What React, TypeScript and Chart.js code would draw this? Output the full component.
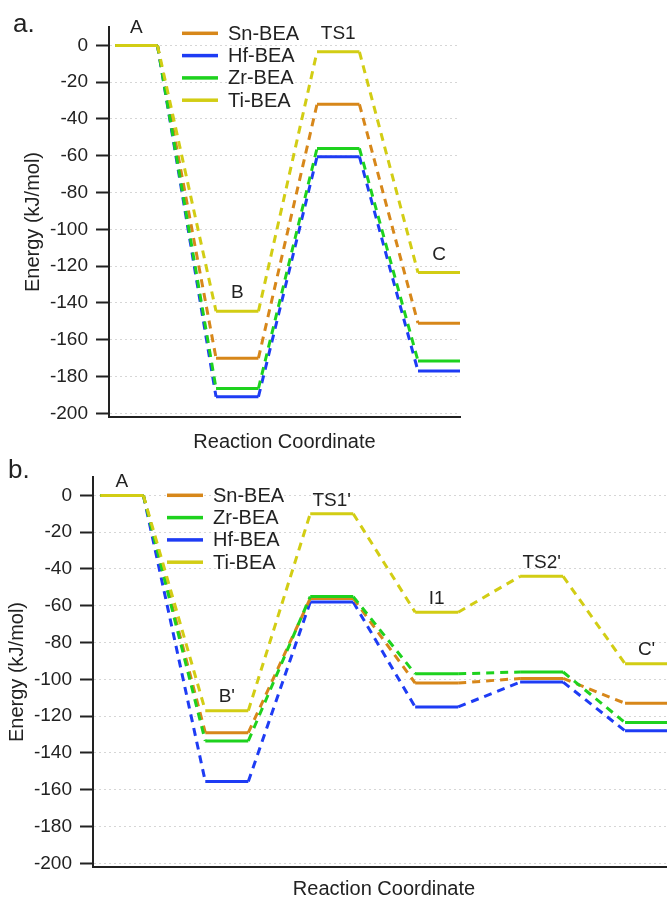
import React, { useEffect, useRef } from 'react';
import { Chart, registerables } from 'chart.js';

Chart.register(...registerables);

const FONT = '"Liberation Sans", Arial, Helvetica, sans-serif';
const TEXT = '#222222';

// ---------- Panel a data ----------
const statesA = ['A', 'B', 'TS1', 'C'];
const snA = [0, -170, -32, -151];
const hfA = [0, -191, -60.5, -177];
const zrA = [0, -186.5, -56, -171.5];
const tiA = [0, -144.5, -3.5, -123.5];

// ---------- Panel b data ----------
const statesB = ['A', "B'", "TS1'", 'I1', "TS2'", "C'"];
const snB = [0, -129, -56, -102, -99.5, -113];
const zrB = [0, -133.5, -55, -97, -96, -123.5];
const hfB = [0, -155.5, -58, -115, -101.5, -128];
const tiB = [0, -117, -10, -63.5, -44, -91.5];

const yTicks = [-200, -180, -160, -140, -120, -100, -80, -60, -40, -20, 0];

const COLOR_SN = '#D7871A';
const COLOR_HF = '#1E3CF4';
const COLOR_ZR = '#1ED21E';
const COLOR_TI = '#D2CD14';

type Series = { label: string; values: number[]; color: string; order: number };

const seriesA: Series[] = [
  { label: 'Sn-BEA', values: snA, color: COLOR_SN, order: 3 },
  { label: 'Hf-BEA', values: hfA, color: COLOR_HF, order: 2 },
  { label: 'Zr-BEA', values: zrA, color: COLOR_ZR, order: 1 },
  { label: 'Ti-BEA', values: tiA, color: COLOR_TI, order: 0 },
];

const seriesB: Series[] = [
  { label: 'Sn-BEA', values: snB, color: COLOR_SN, order: 2 },
  { label: 'Zr-BEA', values: zrB, color: COLOR_ZR, order: 1 },
  { label: 'Hf-BEA', values: hfB, color: COLOR_HF, order: 3 },
  { label: 'Ti-BEA', values: tiB, color: COLOR_TI, order: 0 },
];

type PanelCfg = {
  letter: string;
  states: string[];
  series: Series[];
  levelW: number;
  xMin: number;
  xMax: number;
  axisLeft: number;
  padRight: number;
  padTop: number;
  xAxisHeight: number;
  xTitlePadBottom: number;
  yTitlePadTop: number;
  labelGap: number;
  legendX: number;
  legendY: number;
  letterX: number;
  letterY: number;
};

function makeOverlay(p: PanelCfg) {
  return {
    id: 'overlay' + p.letter,
    afterDraw(chart: any) {
      const ctx = chart.ctx as CanvasRenderingContext2D;
      const xs = chart.scales.x;
      const ys = chart.scales.y;
      ctx.save();
      ctx.setLineDash([]);
      ctx.lineDashOffset = 0;
      ctx.fillStyle = TEXT;
      // state labels
      ctx.font = `19px ${FONT}`;
      ctx.textAlign = 'center';
      ctx.textBaseline = 'middle';
      p.states.forEach((s, i) => {
        const top = Math.max(...p.series.map((se) => se.values[i]));
        ctx.fillText(s, xs.getPixelForValue(i + p.levelW / 2), ys.getPixelForValue(top) - p.labelGap);
      });
      // legend
      p.series.forEach((se, k) => {
        const y = p.legendY + k * 22.3;
        ctx.save();
        ctx.setLineDash([]);
        ctx.fillStyle = se.color;
        ctx.fillRect(p.legendX, y - 1.75, 36, 3.5);
        ctx.restore();
        ctx.font = `20px ${FONT}`;
        ctx.textAlign = 'left';
        ctx.textBaseline = 'middle';
        ctx.fillStyle = TEXT;
        ctx.fillText(se.label, p.legendX + 46, y + 1);
      });
      // panel letter
      ctx.font = `26px ${FONT}`;
      ctx.textAlign = 'left';
      ctx.textBaseline = 'alphabetic';
      ctx.fillText(p.letter, p.letterX, p.letterY);
      ctx.restore();
    },
  };
}

function buildConfig(p: PanelCfg): any {
  const datasets = p.series.map((se) => {
    const pts: { x: number; y: number }[] = [];
    se.values.forEach((v, i) => {
      pts.push({ x: i, y: v });
      pts.push({ x: i + p.levelW, y: v });
    });
    return {
      label: se.label,
      data: pts,
      borderColor: se.color,
      backgroundColor: se.color,
      borderWidth: 3,
      pointRadius: 0,
      fill: false,
      tension: 0,
      order: se.order,
      borderCapStyle: 'butt',
      borderJoinStyle: 'round',
      segment: {
        borderDash: (c: any) => (c.p0DataIndex % 2 === 1 ? [8, 6] : undefined),
      },
    };
  });
  return {
    type: 'line',
    data: { datasets },
    options: {
      responsive: false,
      animation: false,
      devicePixelRatio: 1,
      layout: { padding: { left: 0, right: p.padRight, top: p.padTop, bottom: 0 } },
      plugins: { legend: { display: false }, tooltip: { enabled: false } },
      scales: {
        x: {
          type: 'linear',
          min: p.xMin,
          max: p.xMax,
          afterFit: (s: any) => {
            s.height = p.xAxisHeight;
          },
          ticks: { display: false },
          grid: { display: false, drawTicks: false },
          border: { display: true, color: TEXT, width: 2 },
          title: {
            display: true,
            text: 'Reaction Coordinate',
            color: TEXT,
            font: { family: FONT, size: 20, lineHeight: 1 },
            padding: { top: 0, bottom: p.xTitlePadBottom },
          },
        },
        y: {
          type: 'linear',
          min: -202,
          max: 10,
          afterBuildTicks: (s: any) => {
            s.ticks = yTicks.map((v) => ({ value: v }));
          },
          afterFit: (s: any) => {
            s.width = p.axisLeft;
          },
          grid: {
            color: '#d6d6d6',
            lineWidth: 1,
            drawTicks: true,
            tickLength: 13,
            tickColor: TEXT,
            tickWidth: 2,
            tickBorderDash: [],
          },
          border: { display: true, color: TEXT, width: 2, dash: [2, 3] },
          ticks: {
            color: TEXT,
            padding: 8,
            font: { family: FONT, size: 19 },
            callback: (v: any) => String(v),
          },
          title: {
            display: true,
            text: 'Energy (kJ/mol)',
            color: TEXT,
            font: { family: FONT, size: 20, lineHeight: 1 },
            padding: { top: p.yTitlePadTop, bottom: 0 },
          },
        },
      },
    },
    plugins: [makeOverlay(p)],
  };
}

const panelA: PanelCfg = {
  letter: 'a.',
  states: statesA,
  series: seriesA,
  levelW: 0.42,
  xMin: -0.06,
  xMax: 3.416,
  axisLeft: 109,
  padRight: 207,
  padTop: 27,
  xAxisHeight: 43,
  xTitlePadBottom: 8,
  yTitlePadTop: 23,
  labelGap: 18,
  legendX: 182,
  legendY: 33.3,
  letterX: 13,
  letterY: 32,
};

const panelB: PanelCfg = {
  letter: 'b.',
  states: statesB,
  series: seriesB,
  levelW: 0.41,
  xMin: -0.07,
  xMax: 5.476,
  axisLeft: 93,
  padRight: 0,
  padTop: 27,
  xAxisHeight: 32,
  xTitlePadBottom: 0,
  yTitlePadTop: 7,
  labelGap: 13.5,
  legendX: 167,
  legendY: 45.3,
  letterX: 8,
  letterY: 28,
};

function Panel({ cfg, top, width, height }: { cfg: PanelCfg; top: number; width: number; height: number }) {
  const ref = useRef<HTMLCanvasElement | null>(null);
  useEffect(() => {
    if (!ref.current) return;
    const chart = new Chart(ref.current, buildConfig(cfg));
    return () => chart.destroy();
  }, [cfg]);
  return (
    <canvas
      ref={ref}
      width={width}
      height={height}
      style={{ position: 'absolute', left: 0, top, width, height, display: 'block' }}
    />
  );
}

export default function App() {
  return (
    <div
      style={{
        position: 'fixed',
        left: 0,
        top: 0,
        width: 667,
        height: 899,
        overflow: 'hidden',
        background: '#ffffff',
      }}
    >
      <Panel cfg={panelA} top={0} width={667} height={460} />
      <Panel cfg={panelB} top={450} width={675} height={449} />
    </div>
  );
}
